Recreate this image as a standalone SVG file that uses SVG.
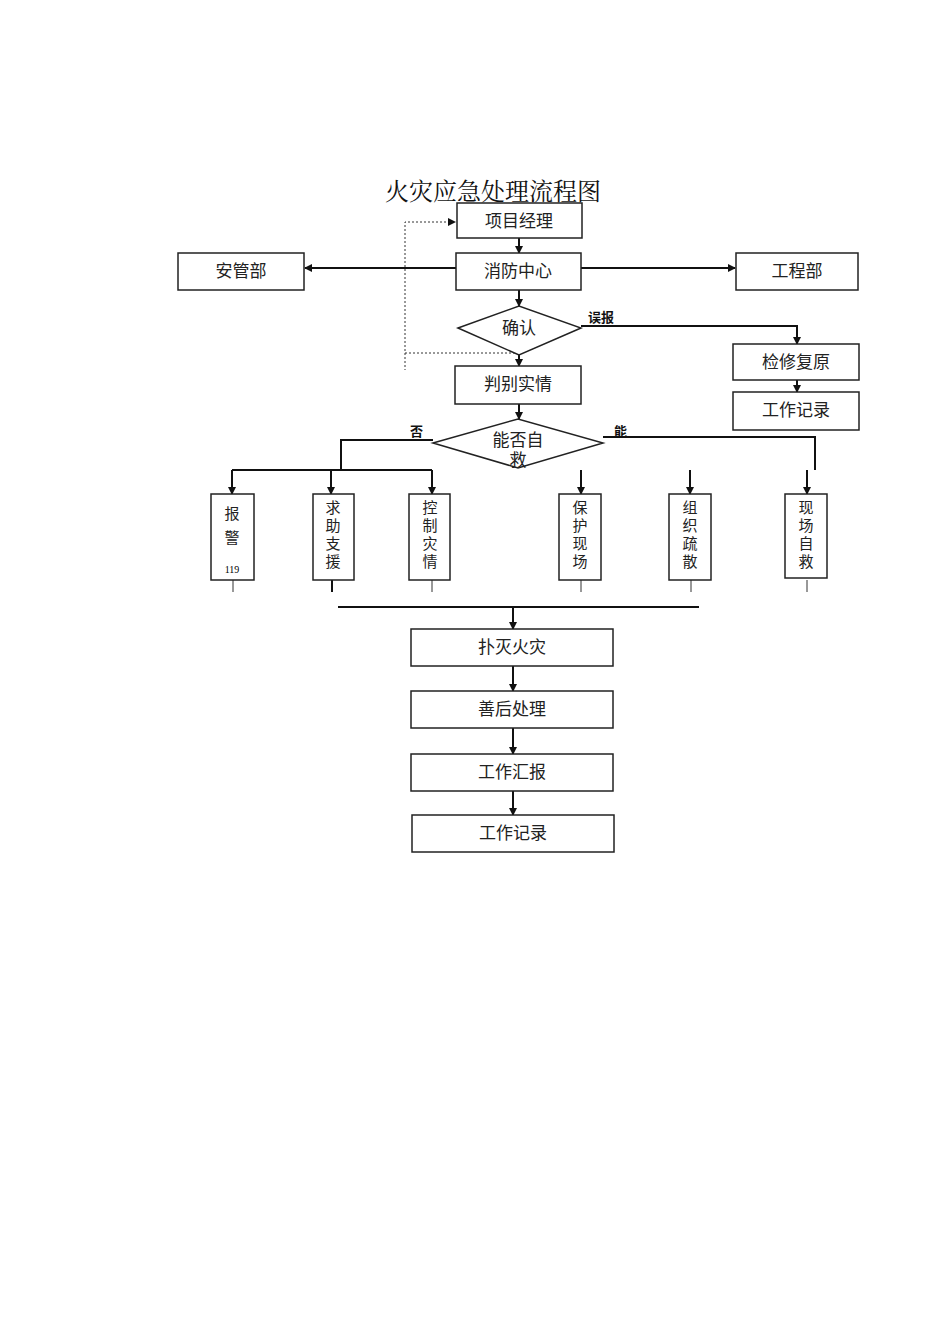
<svg xmlns="http://www.w3.org/2000/svg" width="950" height="1344" viewBox="0 0 950 1344">
<style>
.b{fill:#fff;stroke:#222;stroke-width:1.5}
.t{font-family:"Noto Sans CJK SC","Noto Sans CJK JP",sans-serif;font-size:17px;fill:#222;text-anchor:middle}
.v{font-family:"Noto Sans CJK SC",sans-serif;font-size:15px;fill:#222;text-anchor:middle}
.l{fill:none;stroke:#111;stroke-width:2}
.s{font-family:"Noto Sans CJK SC",sans-serif;font-size:13px;font-weight:bold;fill:#111}
</style>
<defs><marker id="a" markerWidth="8" markerHeight="8" refX="7" refY="4" orient="auto" markerUnits="userSpaceOnUse"><path d="M0,0L8,4L0,8z" fill="#111"/></marker></defs>
<rect width="950" height="1344" fill="#fff"/>
<text x="493" y="200" font-family="Noto Serif CJK SC,Noto Sans CJK SC,serif" font-size="24" text-anchor="middle" fill="#111">火灾应急处理流程图</text>
<g id="connectors">
<path class="l" d="M519,238V253" marker-end="url(#a)"/>
<path class="l" d="M456,268H305" marker-end="url(#a)" stroke-width="2.5"/>
<path class="l" d="M581,268H735" marker-end="url(#a)" stroke-width="2.5"/>
<path class="l" d="M519,290V306" marker-end="url(#a)"/>
<path class="l" d="M581,326H797V344" marker-end="url(#a)" stroke-width="1.5"/>
<path class="l" d="M797,380V392" marker-end="url(#a)"/>
<path fill="none" stroke="#333" stroke-dasharray="2,2" d="M519,353H405V222H455" marker-end="url(#a)"/>
<path fill="none" stroke="#333" stroke-dasharray="2,2" d="M405,353V370"/>
<path class="l" d="M519,355V366" marker-end="url(#a)"/>
<path class="l" d="M519,404V419" marker-end="url(#a)"/>
<path class="l" d="M433,440H341V470" stroke-width="1.5"/>
<path class="l" d="M232,470H432" stroke-width="1.5"/>
<path class="l" d="M232,470V494" marker-end="url(#a)"/>
<path class="l" d="M331,470V494" marker-end="url(#a)"/>
<path class="l" d="M432,470V494" marker-end="url(#a)"/>
<path class="l" d="M603,437H815V470" stroke-width="1.5"/>
<path class="l" d="M581,470V494" marker-end="url(#a)"/>
<path class="l" d="M690,470V494" marker-end="url(#a)"/>
<path class="l" d="M807,470V494" marker-end="url(#a)"/>
<path stroke="#333" stroke-width="1" d="M233,580V592M432,580V592M581,580V592M691,580V592M807,580V592"/>
<path stroke="#111" stroke-width="2" d="M332,580V592"/>
<path class="l" d="M338,607H699"/>
<path class="l" d="M513,607V629" marker-end="url(#a)"/>
<path class="l" d="M513,666V691" marker-end="url(#a)"/>
<path class="l" d="M513,728V754" marker-end="url(#a)"/>
<path class="l" d="M513,791V815" marker-end="url(#a)"/>
<text class="s" x="588" y="322">误报</text>
<text class="s" x="410" y="436">否</text>
<text class="s" x="614" y="436">能</text>
</g>
<g id="n1"><rect class="b" x="457" y="203" width="125" height="35"/><text class="t" x="519" y="227">项目经理</text></g>
<g id="n2"><rect class="b" x="456" y="253" width="125" height="37"/><text class="t" x="518" y="277">消防中心</text></g>
<g id="n3"><rect class="b" x="178" y="253" width="126" height="37"/><text class="t" x="241" y="277">安管部</text></g>
<g id="n4"><rect class="b" x="736" y="253" width="122" height="37"/><text class="t" x="797" y="277">工程部</text></g>
<g id="n5"><polygon class="b" points="458,328 519,306 581,328 519,355"/><text class="t" x="519" y="334">确认</text></g>
<g id="n6"><rect class="b" x="733" y="344" width="126" height="36"/><text class="t" x="796" y="368">检修复原</text></g>
<g id="n7"><rect class="b" x="733" y="392" width="126" height="38"/><text class="t" x="796" y="416">工作记录</text></g>
<g id="n8"><rect class="b" x="455" y="366" width="126" height="38"/><text class="t" x="518" y="390">判别实情</text></g>
<g id="n9"><polygon class="b" points="433,443 518,419 603,443 518,468"/><text class="t" x="518" y="446">能否自</text><text class="t" x="518" y="466">救</text></g>
<g id="n10"><rect class="b" x="211" y="494" width="43" height="86"/><text class="v" x="232" y="519">报</text><text class="v" x="232" y="543">警</text><text x="232" y="573" font-family="Liberation Serif,serif" font-size="10" text-anchor="middle">119</text></g>
<g id="n11"><rect class="b" x="313" y="494" width="41" height="86"/><text class="v" x="333" y="513">求</text><text class="v" x="333" y="531">助</text><text class="v" x="333" y="549">支</text><text class="v" x="333" y="567">援</text></g>
<g id="n12"><rect class="b" x="409" y="494" width="41" height="86"/><text class="v" x="430" y="513">控</text><text class="v" x="430" y="531">制</text><text class="v" x="430" y="549">灾</text><text class="v" x="430" y="567">情</text></g>
<g id="n13"><rect class="b" x="559" y="494" width="42" height="86"/><text class="v" x="580" y="513">保</text><text class="v" x="580" y="531">护</text><text class="v" x="580" y="549">现</text><text class="v" x="580" y="567">场</text></g>
<g id="n14"><rect class="b" x="669" y="494" width="42" height="86"/><text class="v" x="690" y="513">组</text><text class="v" x="690" y="531">织</text><text class="v" x="690" y="549">疏</text><text class="v" x="690" y="567">散</text></g>
<g id="n15"><rect class="b" x="785" y="494" width="42" height="84"/><text class="v" x="806" y="513">现</text><text class="v" x="806" y="531">场</text><text class="v" x="806" y="549">自</text><text class="v" x="806" y="567">救</text></g>
<g id="n16"><rect class="b" x="411" y="629" width="202" height="37"/><text class="t" x="512" y="653">扑灭火灾</text></g>
<g id="n17"><rect class="b" x="411" y="691" width="202" height="37"/><text class="t" x="512" y="715">善后处理</text></g>
<g id="n18"><rect class="b" x="411" y="754" width="202" height="37"/><text class="t" x="512" y="778">工作汇报</text></g>
<g id="n19"><rect class="b" x="412" y="815" width="202" height="37"/><text class="t" x="513" y="839">工作记录</text></g>
</svg>
